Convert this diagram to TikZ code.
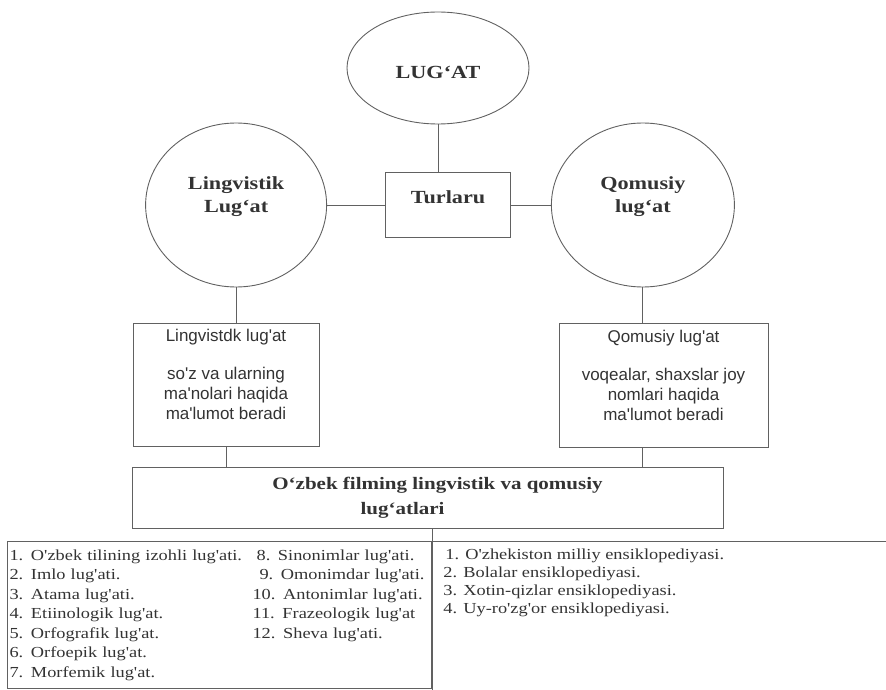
\documentclass[tikz,border=0pt]{standalone}
\usepackage{fontspec}
\setmainfont{Liberation Serif}[FakeStretch=1.2,Ligatures=TeXOff]
\newfontfamily\notefont{Liberation Sans}[Ligatures=TeXOff]
\usetikzlibrary{positioning,shapes.geometric}
\definecolor{scan}{gray}{0.38}
\definecolor{ink}{gray}{0.2}
\tikzset{%
  every kind/.style={
    ellipse,
    draw=scan,
    inner sep=0pt,
    align=center,
    font=\bfseries\fontsize{18.5}{23}\selectfont
  },
  note box/.style={
    draw=scan,
    inner sep=0pt,
    align=center,
    font=\notefont\fontsize{17}{20}\selectfont
  },
  list box/.style={
    inner xsep=2pt,
    inner ysep=4.35pt,
    align=left,
    font=\fontsize{15.3}{19.5}\selectfont
  },
}

\begin{document}
\begin{tikzpicture}[x=1pt,y=-1pt,node distance=40pt,text=ink,line width=0.9pt]
  \tikzstyle{frame}=[draw=scan,inner sep=0pt,align=center,font=\bfseries\fontsize{18.5}{23}\selectfont]
  \useasboundingbox (0,0) rectangle (886,690);

  \node[every kind,minimum width=182pt,minimum height=112pt] (lugat) at (438,68) {\raisebox{-4pt}[\height][\depth]{LUG‘AT}};
  \node[frame,minimum width=125pt,minimum height=65pt] (turlar) at (448,205) {Turlaru\\[-7pt]\mbox{}};
  \node[every kind,minimum width=181pt,minimum height=164pt,left=58pt of turlar] (lingv) {Lingvistik\\Lug‘at\\[-3pt]\mbox{}};
  \node[every kind,minimum width=183pt,minimum height=164pt,right=40pt of turlar] (qomus) {Qomusiy\\lug‘at\\[-3pt]\mbox{}};

  \draw[draw=scan] (lugat.south) -- (lugat.south |- turlar.north);
  \draw[draw=scan] (lingv.east) -- (turlar.west);
  \draw[draw=scan] (turlar.east) -- (qomus.west);

  \node[note box,minimum width=186pt,minimum height=123pt] (lingBox) at (226,384.5)
    {Lingvistdk lug'at\\[18pt]so'z va ularning\\ma'nolari haqida\\ma'lumot beradi\\\mbox{}};
  \node[note box,minimum width=209pt,minimum height=124pt] (qomBox) at (663.5,385)
    {Qomusiy lug'at\\[18pt]voqealar, shaxslar joy\\nomlari haqida\\ma'lumot beradi\\\mbox{}};

  \draw[draw=scan] (lingv.south) -- (lingv.south |- lingBox.north);
  \draw[draw=scan] (qomus.south) -- (qomus.south |- qomBox.north);

  \node[frame,minimum width=591pt,minimum height=61pt,font=\bfseries\fontsize{17.5}{25}\selectfont] (atlar) at (427.5,497.5)
    {\hspace*{20pt}O‘zbek filming lingvistik va qomusiy\\lug‘atlari\hspace*{50pt}};

  \draw[draw=scan] (lingBox.south) -- (lingBox.south |- atlar.north);
  \draw[draw=scan] (qomBox.south -| qomus.south) -- (qomus.south |- atlar.north);

  \coordinate (split) at (432,690);
  \coordinate (edge) at (886,541);

  % two lists under the title box
  \node[list box,draw=scan,anchor=north east,text width=420pt,minimum height=147pt] (lingList) at (split |- edge)
    {\noindent\begin{tabular}{@{}p{243pt}@{}l@{}}
      1. O'zbek tilining izohli lug'ati. & \hspace*{4pt}8. Sinonimlar lug'ati.\\
      2. Imlo lug'ati. & \hspace*{7pt}9. Omonimdar lug'ati.\\
      3. Atama lug'ati. & 10. Antonimlar lug'ati.\\
      4. Etiinologik lug'at. & 11. Frazeologik lug'at\\
      5. Orfografik lug'at. & 12. Sheva lug'ati.\\
      6. Orfoepik lug'at. & \\
      7. Morfemik lug'at. &
    \end{tabular}};
  \node[list box,anchor=north west,inner sep=0pt,font=\fontsize{15.3}{18}\selectfont] (qomList) at (443,548)
    {\hspace*{2pt}1. O'zhekiston milliy ensiklopediyasi.\\
     2. Bolalar ensiklopediyasi.\\
     3. Xotin-qizlar ensiklopediyasi.\\
     4. Uy-ro'zg'or ensiklopediyasi.};

  \draw[draw=scan] (atlar.south -| split) -- (split);
  \draw[draw=scan] (lingList.north east) -- (edge);
\end{tikzpicture}
\end{document}
